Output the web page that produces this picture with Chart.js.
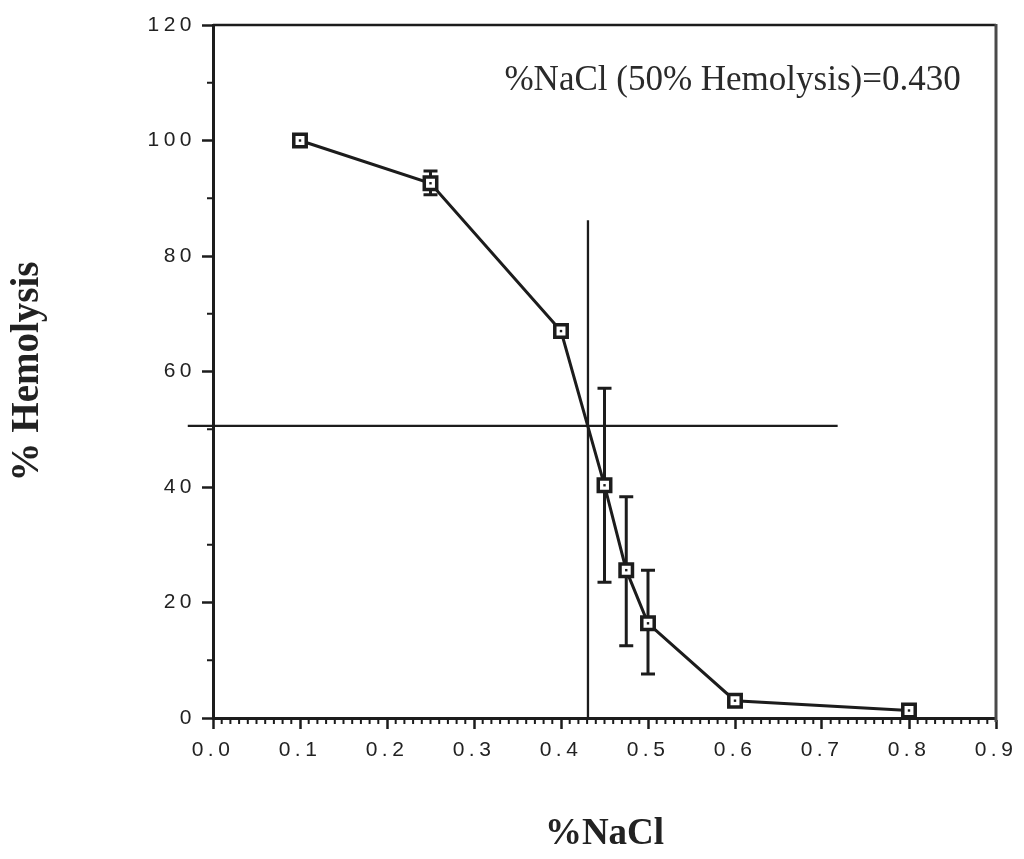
<!DOCTYPE html>
<html>
<head>
<meta charset="utf-8">
<title>% Hemolysis vs %NaCl</title>
<script src="https://cdn.jsdelivr.net/npm/chart.js@4.4.1/dist/chart.umd.min.js"></script>
<style>
  html, body { margin: 0; padding: 0; background: #ffffff; }
  #wrap { width: 1024px; height: 859px; }
</style>
</head>
<body>
<div id="wrap"><canvas id="c" width="1024" height="859"></canvas></div>
<script>
// Osmotic fragility: % hemolysis at each NaCl concentration (mean with error bars)
const nacl      = [0.1, 0.25, 0.4, 0.45, 0.475, 0.5, 0.6, 0.8];
const hemolysis = [100, 92.6, 67.0, 40.3, 25.6, 16.4, 3.0, 1.3];
const errLow    = [null, 90.6, null, 23.5, 12.5, 7.6, null, null];
const errHigh   = [null, 94.7, null, 57.1, 38.3, 25.6, null, null];

// 50% hemolysis read-off lines
const nacl50 = 0.431;
const hemolysis50 = 50.6;
const vLineY = [0, 86.2];
const hLineX = [-0.029, 0.718];

// Axis ticks
const xTicks = [0, 0.1, 0.2, 0.3, 0.4, 0.5, 0.6, 0.7, 0.8, 0.9];
const xTickLabels = ['0.0', '0.1', '0.2', '0.3', '0.4', '0.5', '0.6', '0.7', '0.8', '0.9'];
const yTicks = [0, 20, 40, 60, 80, 100, 120];
const yTickLabels = ['0', '20', '40', '60', '80', '100', '120'];

const annotationText = '%NaCl (50% Hemolysis)=0.430';
const annotationPos = { x: 0.335, y: 108.7 };

const INK = '#1c1c1c';
const serif = "'Times New Roman', 'Liberation Serif', serif";
const sans = "Arial, 'Liberation Sans', Helvetica, sans-serif";

const points = nacl.map((x, i) => ({ x, y: hemolysis[i] }));

const decorations = {
  id: 'decorations',
  beforeDatasetsDraw(chart) {
    const { ctx, chartArea: a, scales: { x, y } } = chart;
    ctx.save();
    ctx.strokeStyle = INK;
    ctx.lineCap = 'butt';
    // frame: top and right edges
    ctx.lineWidth = 2.5;
    ctx.beginPath();
    ctx.moveTo(a.left, a.top);
    ctx.lineTo(a.right, a.top);
    ctx.stroke();
    ctx.strokeStyle = '#4a4a4a';
    ctx.lineWidth = 3;
    ctx.beginPath();
    ctx.moveTo(a.right, a.top - 1);
    ctx.lineTo(a.right, a.bottom + 4);
    ctx.stroke();
    // minor tick marks
    ctx.strokeStyle = INK;
    ctx.lineWidth = 2;
    ctx.beginPath();
    for (let i = 0; i < xTicks.length - 1; i++) {
      const step = (xTicks[i + 1] - xTicks[i]) / 10;
      for (let k = 1; k < 10; k++) {
        const px = x.getPixelForValue(xTicks[i] + k * step);
        ctx.moveTo(px, a.bottom);
        ctx.lineTo(px, a.bottom + 6);
      }
    }
    for (let i = 0; i < yTicks.length - 1; i++) {
      const py = y.getPixelForValue((yTicks[i] + yTicks[i + 1]) / 2);
      ctx.moveTo(a.left, py);
      ctx.lineTo(a.left - 6, py);
    }
    ctx.stroke();
    // error bars
    ctx.lineWidth = 3;
    ctx.beginPath();
    const cap = 7;
    nacl.forEach((v, i) => {
      if (errLow[i] == null || errHigh[i] == null) return;
      const px = x.getPixelForValue(v);
      const lo = y.getPixelForValue(errLow[i]);
      const hi = y.getPixelForValue(errHigh[i]);
      ctx.moveTo(px, lo); ctx.lineTo(px, hi);
      ctx.moveTo(px - cap, lo); ctx.lineTo(px + cap, lo);
      ctx.moveTo(px - cap, hi); ctx.lineTo(px + cap, hi);
    });
    ctx.stroke();
    ctx.restore();
  },
  afterDatasetsDraw(chart) {
    const { ctx, scales: { x, y } } = chart;
    ctx.save();
    ctx.fillStyle = '#2a2a2a';
    ctx.font = '35px ' + serif;
    ctx.textAlign = 'left';
    ctx.textBaseline = 'alphabetic';
    ctx.fillText(annotationText, x.getPixelForValue(annotationPos.x), y.getPixelForValue(annotationPos.y));
    ctx.restore();
    // tick labels are drawn after this hook (ticks.z = 1) with wide tracking
    ctx.letterSpacing = '4.5px';
  },
  afterDraw(chart) {
    chart.ctx.letterSpacing = '0px';
  }
};

new Chart(document.getElementById('c'), {
  type: 'line',
  data: {
    datasets: [
      {
        // centre dots of the square markers
        data: points,
        showLine: false,
        pointStyle: 'rect',
        pointRadius: 1.7,
        pointBackgroundColor: INK,
        pointBorderWidth: 0,
        borderWidth: 0
      },
      {
        data: points,
        borderColor: INK,
        borderWidth: 3,
        tension: 0,
        pointStyle: 'rect',
        pointRadius: 8.8,
        pointBorderWidth: 3.5,
        pointBackgroundColor: '#ffffff',
        pointBorderColor: INK
      },
      {
        data: vLineY.map(v => ({ x: nacl50, y: v })),
        borderColor: INK,
        borderWidth: 2.3,
        pointRadius: 0,
        clip: false
      },
      {
        data: hLineX.map(v => ({ x: v, y: hemolysis50 })),
        borderColor: INK,
        borderWidth: 2.3,
        pointRadius: 0,
        clip: false
      }
    ]
  },
  options: {
    responsive: false,
    devicePixelRatio: 1,
    animation: false,
    layout: { padding: { left: 0, right: 28, top: 25, bottom: 0 } },
    plugins: { legend: { display: false }, tooltip: { enabled: false } },
    scales: {
      x: {
        type: 'linear',
        min: 0,
        max: 0.9,
        afterBuildTicks: s => { s.ticks = xTicks.map(v => ({ value: v })); },
        afterFit: s => { s.height = 141; },
        grid: { drawOnChartArea: false, drawTicks: true, tickLength: 11, tickWidth: 2.5, tickColor: INK },
        border: { display: true, color: INK, width: 3 },
        ticks: {
          z: 1,
          padding: 9,
          color: '#222',
          font: { family: sans, size: 21 },
          maxRotation: 0,
          autoSkip: false,
          callback: (v, i) => xTickLabels[i]
        },
        title: {
          display: true,
          text: '%NaCl',
          color: '#222',
          font: { family: serif, size: 37, weight: 'bold' },
          padding: { top: 0, bottom: 2 }
        }
      },
      y: {
        type: 'linear',
        min: 0,
        max: 120,
        afterBuildTicks: s => { s.ticks = yTicks.map(v => ({ value: v })); },
        afterFit: s => { s.width = 213; },
        grid: { drawOnChartArea: false, drawTicks: true, tickLength: 11, tickWidth: 2.5, tickColor: INK },
        border: { display: true, color: INK, width: 3 },
        ticks: {
          z: 1,
          padding: 6,
          color: '#222',
          font: { family: sans, size: 21 },
          autoSkip: false,
          callback: (v, i) => yTickLabels[i]
        },
        title: {
          display: true,
          text: '% Hemolysis',
          color: '#222',
          font: { family: serif, size: 39, weight: 'bold' },
          padding: { top: 5, bottom: 0 }
        }
      }
    }
  },
  plugins: [decorations]
});
</script>
</body>
</html>
